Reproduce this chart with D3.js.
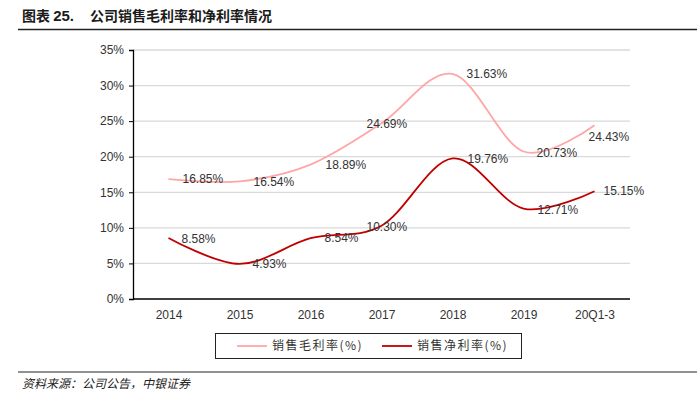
<!DOCTYPE html>
<html>
<head>
<meta charset="utf-8">
<script src="https://cdn.jsdelivr.net/npm/d3@7/dist/d3.min.js"></script>
<style>
  body { margin: 0; background: #fff; }
  svg { display: block; }
</style>
</head>
<body>
<svg id="chart" width="698" height="405"></svg>
<script>
const categories = ['2014', '2015', '2016', '2017', '2018', '2019', '20Q1-3']
const grossMargin = [16.85, 16.54, 18.89, 24.69, 31.63, 20.73, 24.43]
const netMargin = [8.58, 4.93, 8.54, 10.30, 19.76, 12.71, 15.15]
const yTicks = [0, 5, 10, 15, 20, 25, 30, 35]
const seriesNames = ['销售毛利率(%)', '销售净利率(%)']

// label nudges (px) so they sit roughly where the original puts them
const grossLabelShift = [[14, 0], [14, 0], [15, 0], [-15, 0], [14, 0], [13, 1], [-6, 12]]
const netLabelShift = [[13, 1], [13, 0], [14, 0], [-15, 1], [15, 0], [14, 1], [9, 0]]

const svg = d3.select('#chart')
const latin = 'Liberation Sans, Arial, sans-serif'
const cjk = '"Noto Sans CJK SC", sans-serif'

// header
svg.append('text')
  .attr('x', 22).attr('y', 21)
  .attr('font-family', cjk).attr('font-weight', 'bold').attr('font-size', 14)
  .attr('fill', '#1a1a1a')
  .text('图表 ')
  .append('tspan').attr('font-family', latin).attr('font-size', 15).text('25.')
  .append('tspan').attr('dx', 16).attr('font-family', cjk).attr('font-size', 14)
  .text('公司销售毛利率和净利率情况')

svg.append('line')
  .attr('x1', 18).attr('x2', 697).attr('y1', 29.5).attr('y2', 29.5)
  .attr('stroke', '#222').attr('stroke-width', 1.5)

svg.append('line')
  .attr('x1', 18).attr('x2', 697).attr('y1', 372).attr('y2', 372)
  .attr('stroke', '#222').attr('stroke-width', 1)

svg.append('text')
  .attr('x', 22).attr('y', 388)
  .attr('font-family', cjk).attr('font-style', 'italic').attr('font-size', 12)
  .attr('fill', '#222')
  .text('资料来源：公司公告，中银证券')

// plot
const plotLeft = 133, plotRight = 630, plotTop = 50, plotBottom = 299

const xScale = d3.scalePoint()
  .domain(categories)
  .range([plotLeft, plotRight])
  .padding(0.5)

const yScale = d3.scaleLinear()
  .domain([0, 35])
  .range([plotBottom, plotTop])

svg.append('g')
  .selectAll('line')
  .data(yTicks.slice(1))
  .enter()
  .append('line')
  .attr('x1', plotLeft).attr('x2', plotRight)
  .attr('y1', d => yScale(d)).attr('y2', d => yScale(d))
  .attr('stroke', '#d9d9d9').attr('stroke-width', 1.3)

const yAxis = svg.append('g')
  .attr('transform', `translate(${plotLeft}, 0)`)
  .call(d3.axisLeft(yScale).tickValues(yTicks).tickSize(4).tickFormat(d => d + '%'))
yAxis.select('.domain').attr('stroke', '#000').attr('stroke-width', 1.3)
yAxis.selectAll('.tick line').attr('stroke', '#000')
yAxis.selectAll('.tick text')
  .attr('font-family', latin).attr('font-size', 12).attr('fill', '#333').attr('x', -9)

const xAxis = svg.append('g')
  .attr('transform', `translate(0, ${plotBottom})`)
  .call(d3.axisBottom(xScale).tickSize(0).tickSizeOuter(0))
xAxis.select('.domain')
  .attr('d', `M${plotLeft},0H${plotRight}`)
  .attr('stroke', '#000').attr('stroke-width', 1.3)
xAxis.selectAll('.tick text')
  .attr('font-family', latin).attr('font-size', 12).attr('fill', '#333').attr('dy', '1.45em')

const series = [
  { values: grossMargin, color: '#ffa6a6', shift: grossLabelShift },
  { values: netMargin, color: '#c00000', shift: netLabelShift }
]

const line = d3.line()
  .x((d, i) => xScale(categories[i]))
  .y(d => yScale(d))
  .curve(d3.curveCardinal.tension(0))

series.forEach(s => {
  svg.append('path')
    .datum(s.values)
    .attr('d', line)
    .attr('fill', 'none')
    .attr('stroke', s.color)
    .attr('stroke-width', 1.8)

  svg.append('g')
    .selectAll('text')
    .data(s.values)
    .enter()
    .append('text')
    .attr('x', (d, i) => xScale(categories[i]) + s.shift[i][0])
    .attr('y', (d, i) => yScale(d) + s.shift[i][1])
    .attr('dy', '0.35em')
    .attr('font-family', latin).attr('font-size', 12).attr('fill', '#333')
    .text(d => d.toFixed(2) + '%')
})

// legend
const legend = svg.append('g')
legend.append('rect')
  .attr('x', 215.5).attr('y', 333.5).attr('width', 306).attr('height', 25)
  .attr('fill', 'none').attr('stroke', '#222').attr('stroke-width', 1)

const legendX = [237, 382]
series.forEach((s, i) => {
  legend.append('line')
    .attr('x1', legendX[i]).attr('x2', legendX[i] + 30)
    .attr('y1', 346).attr('y2', 346)
    .attr('stroke', s.color).attr('stroke-width', 1.8)
  legend.append('text')
    .attr('x', legendX[i] + 35).attr('y', 346).attr('dy', '0.35em')
    .attr('font-family', cjk).attr('font-size', 12).attr('fill', '#333')
    .attr('letter-spacing', 1.5)
    .text(seriesNames[i])
})
</script>
</body>
</html>
